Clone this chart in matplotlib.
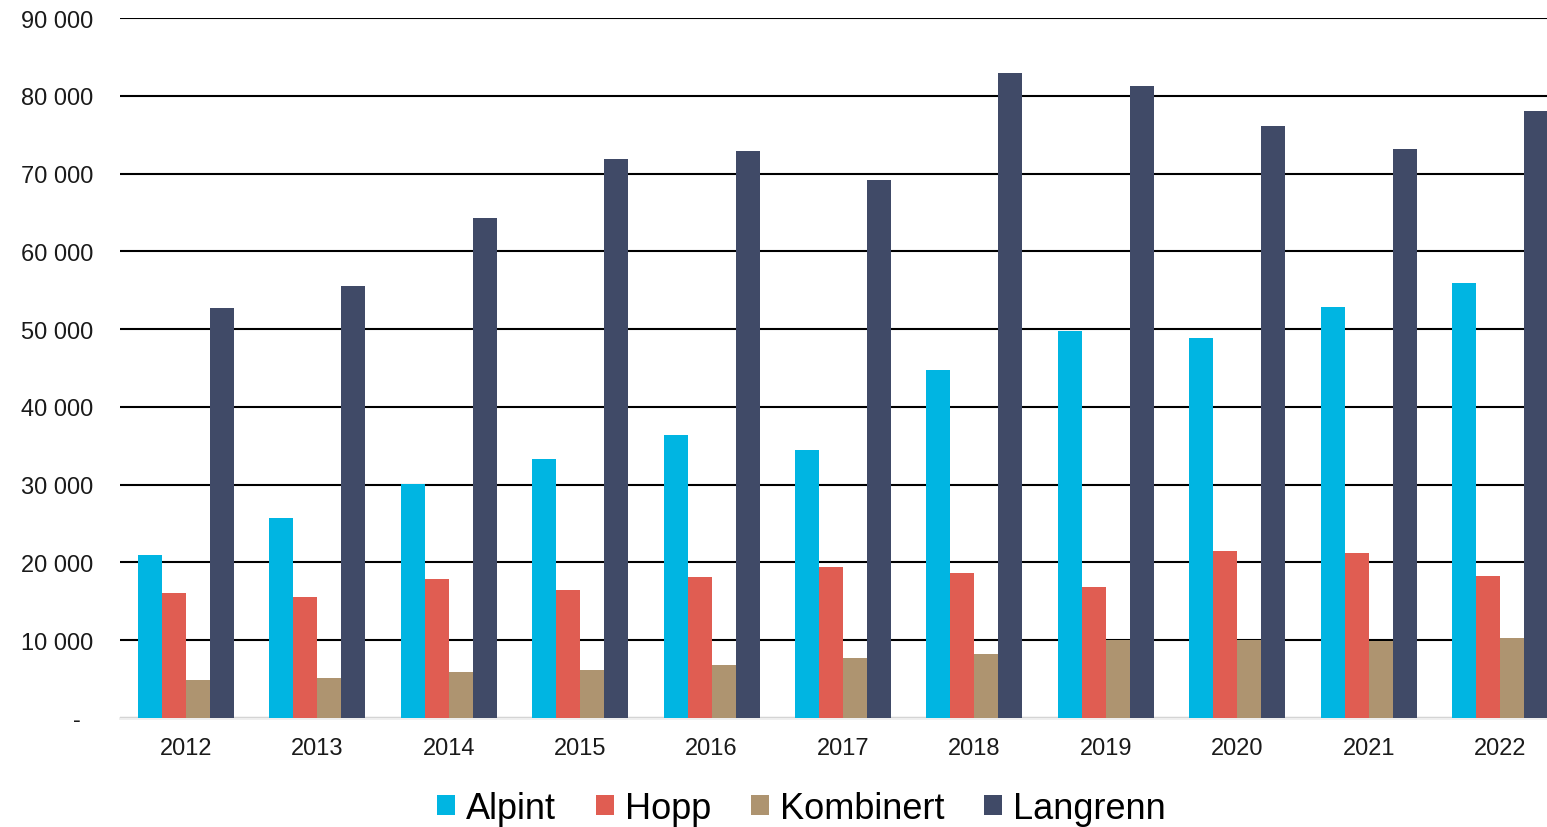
import numpy as np
import matplotlib.pyplot as plt
from matplotlib.ticker import FuncFormatter

years = ['2012', '2013', '2014', '2015', '2016', '2017', '2018', '2019', '2020', '2021', '2022']
alpint = [21000, 25700, 30100, 33300, 36400, 34400, 44700, 49700, 48900, 52800, 55900]
hopp = [16100, 15600, 17900, 16500, 18100, 19400, 18600, 16800, 21500, 21200, 18300]
kombinert = [4900, 5100, 5900, 6200, 6800, 7700, 8200, 10000, 10000, 9900, 10300]
langrenn = [52700, 55600, 64300, 71900, 72900, 69200, 82900, 81200, 76100, 73100, 78000]

series = [('Alpint', alpint, '#00B5E2'),
          ('Hopp', hopp, '#E05D52'),
          ('Kombinert', kombinert, '#AE9470'),
          ('Langrenn', langrenn, '#404A67')]

plt.rcParams['font.family'] = ['Liberation Sans', 'DejaVu Sans']

fig = plt.figure(figsize=(15.47, 8.28), dpi=100)
ax = fig.add_axes([120 / 1547, 1 - 719 / 828, (1566 - 120) / 1547, 700 / 828])

x = np.arange(len(years))
width = 0.1825
for i, (name, vals, color) in enumerate(series):
    ax.bar(x + (i - 1.5) * width, vals, width, color=color, label=name, zorder=3)

ax.set_xlim(-0.5, len(years) - 0.5)
ax.set_ylim(0, 90000)
ax.set_yticks(np.arange(0, 90001, 10000))
ax.yaxis.set_major_formatter(FuncFormatter(
    lambda v, p: '-  ' if v == 0 else f'{int(v):,}'.replace(',', ' ')))
ax.set_xticks(x)
ax.set_xticklabels(years)
ax.grid(axis='y', color='black', linewidth=1.5, zorder=0)
ax.tick_params(axis='both', length=0, labelsize=17, colors='#1a1a1a')
ax.tick_params(axis='x', pad=14)
ax.tick_params(axis='y', pad=19)
for s in ['top', 'right', 'left']:
    ax.spines[s].set_visible(False)
ax.spines['bottom'].set_color('#eeeeee')
ax.spines['bottom'].set_linewidth(2)

fig.legend(loc='lower center', bbox_to_anchor=(0.518, -0.038), ncol=4, frameon=False,
           fontsize=26, handlelength=0.5, handleheight=0.5, handletextpad=0.3,
           columnspacing=1.1)

fig.savefig('out.png', dpi=100)
